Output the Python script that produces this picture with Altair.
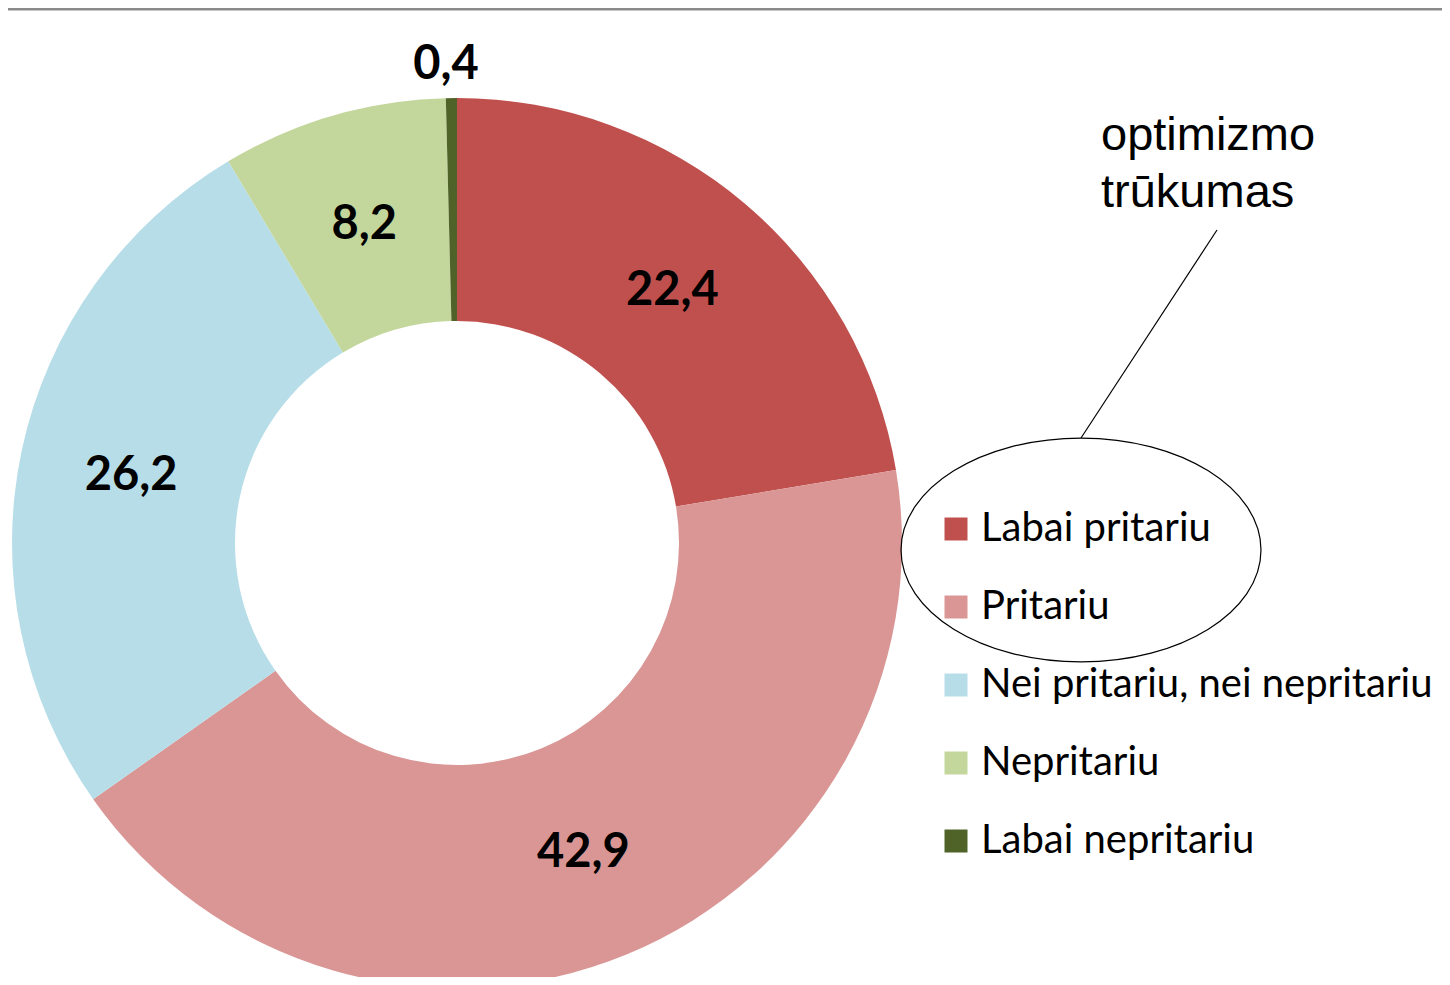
import altair as alt
import pandas as pd

categories = ["Labai pritariu", "Pritariu", "Nei pritariu, nei nepritariu", "Nepritariu", "Labai nepritariu"]
values = [22.4, 42.9, 26.2, 8.2, 0.4]
labels = ["22,4", "42,9", "26,2", "8,2", "0,4"]
colors = ["#C0504D", "#D99694", "#B7DEE8", "#C3D69B", "#4F6228"]
annotation_text = "optimizmo\ntrūkumas"

df = pd.DataFrame({"cat": categories, "val": values, "lab": labels, "idx": list(range(len(values)))})

CX, CY = 449, 535

base = alt.Chart(df).encode(
    theta=alt.Theta("val:Q", stack=True),
    order=alt.Order("idx:Q"),
    x=alt.value(CX),
    y=alt.value(CY),
)

donut = base.mark_arc(outerRadius=445, innerRadius=222, stroke=None).encode(
    color=alt.Color(
        "cat:N",
        scale=alt.Scale(domain=categories, range=colors),
        legend=alt.Legend(
            orient="none", legendX=928, legendY=501, title=None,
            symbolType="square", symbolSize=529, symbolStrokeWidth=0,
            labelFontSize=40, labelFont="Lato", labelColor="#000000",
            labelOffset=5, rowPadding=38, labelLimit=700,
        ),
    )
)

text_main = base.mark_text(radius=333, font="Lato", fontWeight="bold", fontSize=47, color="#000000", dy=2).encode(
    text="lab:N"
).transform_filter(alt.datum.val > 1)

text_small = base.mark_text(radius=478, font="Lato", fontWeight="bold", fontSize=47, color="#000000", dx=-5).encode(
    text=alt.condition(alt.datum.val < 1, "lab:N", alt.value(""))
)

top_rule = alt.Chart(df).mark_rule(color="#8a8a8a", strokeWidth=3).encode(
    x=alt.value(0), x2=alt.value(1434), y=alt.value(1)
).transform_filter(alt.datum.idx == 0)

ann_text = alt.Chart(df).mark_text(
    font="Liberation Sans", fontSize=47, align="left", baseline="alphabetic", color="#000000",
    lineBreak="\n", lineHeight=57,
).encode(
    x=alt.value(1093),
    y=alt.value(142),
    text=alt.value(annotation_text),
).transform_filter(alt.datum.idx == 0)

leader = alt.Chart(df).mark_rule(color="#000000", strokeWidth=1.2).encode(
    x=alt.value(1209), y=alt.value(222), x2=alt.value(1073), y2=alt.value(430)
).transform_filter(alt.datum.idx == 0)

ellipse_path = "M -1 0 A 1 0.622 0 1 0 1 0 A 1 0.622 0 1 0 -1 0 Z"
ellipse = alt.Chart(df).mark_point(
    shape=ellipse_path, size=360 * 360, filled=False, stroke="#000000", strokeWidth=1.2, opacity=1
).encode(
    x=alt.value(1073), y=alt.value(542)
).transform_filter(alt.datum.idx == 0)

chart = alt.layer(top_rule, donut, text_main, text_small, leader, ellipse, ann_text).properties(
    width=1434, height=969, padding=0, autosize=alt.AutoSizeParams(type="none")
).configure_view(stroke=None)

chart.save("out.html", embed_options={"renderer": "svg", "actions": False})
